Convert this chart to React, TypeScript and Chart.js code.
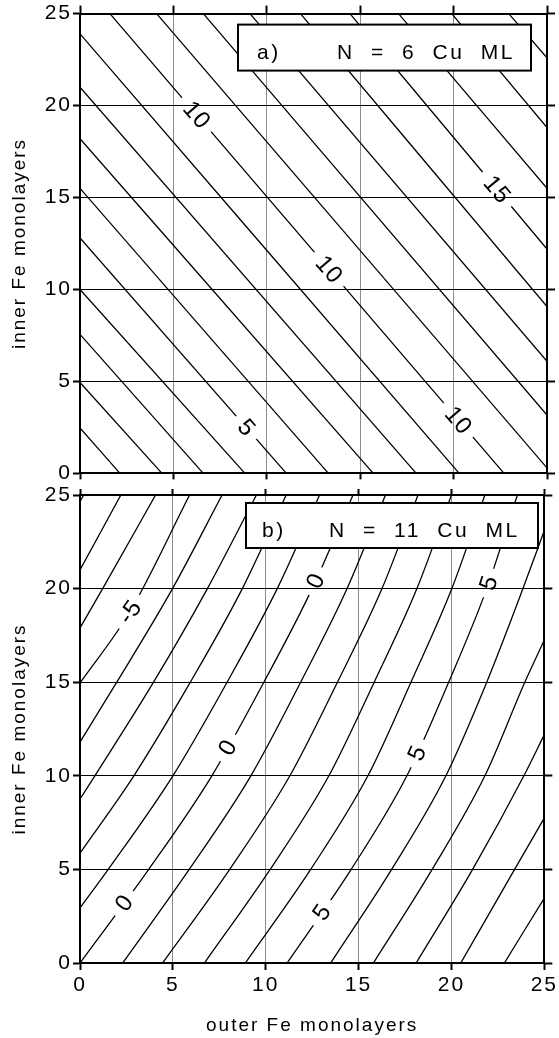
import React, { useEffect, useRef } from 'react';
import { Chart, registerables } from 'chart.js';

Chart.register(...registerables);

const FONT_FAMILY = "'Liberation Sans', Arial, Helvetica, sans-serif";

const AXIS_MIN = 0;
const AXIS_MAX = 25;
const TICK_STEP = 5;

const X_TITLE = 'outer Fe monolayers';
const Y_TITLE = 'inner Fe monolayers';

const PANEL_A_TAG = 'a)';
const PANEL_A_TEXT = 'N = 6 Cu ML';
const PANEL_B_TAG = 'b)';
const PANEL_B_TEXT = 'N = 11 Cu ML';

type Pt = [number, number];

// Panel a) contour lines (x = outer Fe ML, y = inner Fe ML)
const panelALines: Pt[][] = [
  [[0, 2.47], [2.14, 0]],
  [[0, 4.94], [4.39, 0]],
  [[0, 7.56], [6.6, 0]],
  [[0, 10.0], [8.83, 0]],
  [[0, 12.8], [11.05, 0]],
  [[0, 15.5], [13.3, 0]],
  [[0, 18.2], [15.7, 0]],
  [[0, 21.0], [18.0, 0]],
  [[0, 23.9], [20.3, 0]],
  [[1.6, 25], [22.7, 0]],
  [[4.1, 25], [25, 0.3]],
  [[6.6, 25], [25, 3.17]],
  [[9.1, 25], [25, 6.1]],
  [[11.8, 25], [25, 9.07]],
  [[14.45, 25], [25, 12.2]],
  [[17.05, 25], [25, 15.5]],
  [[19.9, 25], [25, 18.8]],
  [[22.95, 25], [25, 22.6]],
];

const panelALabels = [
  { text: '10', line: 9, y: 19.5 },
  { text: '10', line: 9, y: 11.1 },
  { text: '10', line: 9, y: 2.9 },
  { text: '5', line: 4, y: 2.49 },
  { text: '15', line: 14, y: 15.45 },
];

// Panel b) contour lines
const panelBLines: Pt[][] = [
  [[0, 24.65], [0.2, 25]],
  [[0, 21.0], [2.2, 25]],
  [[0, 17.9], [1.22, 20], [4.07, 25]],
  [[0, 14.96], [2.68, 18.75], [5.9, 25]],
  [[0, 11.8], [1.98, 15], [4.98, 20], [7.65, 25]],
  [[0, 8.76], [0.8, 10], [3.96, 15], [6.86, 20], [9.5, 25]],
  [[0, 5.87], [2.9, 10], [5.94, 15], [8.74, 20], [11.1, 25]],
  [[0, 2.94], [1.52, 5], [5.0, 10], [7.92, 15], [10.62, 20], [12.9, 25]],
  [[0, 0], [3.7, 5], [7.1, 10], [9.9, 15], [12.5, 20], [14.7, 25]],
  [[2.3, 0], [5.88, 5], [9.2, 10], [11.88, 15], [14.38, 20], [16.45, 25]],
  [[4.45, 0], [8.06, 5], [11.3, 10], [13.86, 15], [16.26, 20], [18.2, 25]],
  [[6.7, 0], [10.24, 5], [13.4, 10], [15.84, 15], [18.14, 20], [20.0, 25]],
  [[8.9, 0], [12.42, 5], [15.5, 10], [17.82, 15], [20.02, 20], [21.8, 25]],
  [[11.15, 0], [14.6, 5], [17.6, 10], [19.85, 15], [21.9, 20], [23.55, 25]],
  [[13.5, 0], [16.78, 5], [19.7, 10], [21.9, 15], [23.85, 20], [25, 23.1]],
  [[15.8, 0], [18.96, 5], [21.8, 10], [23.95, 15], [25, 17.25]],
  [[18.1, 0], [21.14, 5], [23.9, 10], [25, 12.2]],
  [[20.5, 0], [23.4, 5], [25, 7.75]],
  [[22.85, 0], [25, 3.47]],
];

const panelBLabels = [
  { text: '-5', line: 3, y: 18.75 },
  { text: '0', line: 8, y: 3.2 },
  { text: '0', line: 8, y: 11.5 },
  { text: '0', line: 8, y: 20.4 },
  { text: '5', line: 13, y: 2.7 },
  { text: '5', line: 13, y: 11.2 },
  { text: '5', line: 13, y: 20.3 },
];

const TICK_FONT_SIZE = 21;
const TITLE_FONT_SIZE = 19;
const CONTOUR_FONT_SIZE = 24;
const LABEL_FONT = `${CONTOUR_FONT_SIZE}px ${FONT_FAMILY}`;
const BOX_FONT = `${TICK_FONT_SIZE}px ${FONT_FAMILY}`;
const LETTER_SPACING = 2;

function labelGeom(chart: any, pts: Pt[], y: number) {
  const xs = chart.scales.x;
  const ys = chart.scales.y;
  for (let i = 0; i < pts.length - 1; i++) {
    const [x1, y1] = pts[i];
    const [x2, y2] = pts[i + 1];
    const lo = Math.min(y1, y2);
    const hi = Math.max(y1, y2);
    if (y >= lo && y <= hi && y1 !== y2) {
      const t = (y - y1) / (y2 - y1);
      const x = x1 + t * (x2 - x1);
      const px = xs.getPixelForValue(x);
      const py = ys.getPixelForValue(y);
      let ang = Math.atan2(
        ys.getPixelForValue(y2) - ys.getPixelForValue(y1),
        xs.getPixelForValue(x2) - xs.getPixelForValue(x1)
      );
      if (ang > Math.PI / 2) ang -= Math.PI;
      if (ang < -Math.PI / 2) ang += Math.PI;
      return { px, py, ang };
    }
  }
  return null;
}

type BoxGeom = { dx: number; dy: number; w: number; h: number; tagX: number; textX: number; baseY: number };

function makePlugin(lines: Pt[][], labels: { text: string; line: number; y: number }[], tag: string, text: string, box: BoxGeom) {
  return {
    id: 'contourDecor',
    beforeDraw(chart: any) {
      chart.ctx.letterSpacing = `${LETTER_SPACING}px`;
    },
    beforeDatasetsDraw(chart: any) {
      const ctx = chart.ctx;
      ctx.save();
      ctx.font = LABEL_FONT;
      ctx.letterSpacing = '1px';
      ctx.beginPath();
      ctx.rect(0, 0, chart.width, chart.height);
      for (const lb of labels) {
        const g = labelGeom(chart, lines[lb.line], lb.y);
        if (!g) continue;
        const hw = ctx.measureText(lb.text).width / 2 + 8;
        const hh = 10;
        const c = Math.cos(g.ang);
        const s = Math.sin(g.ang);
        const corners = [
          [-hw, -hh],
          [hw, -hh],
          [hw, hh],
          [-hw, hh],
        ].map(([u, v]) => [g.px + u * c - v * s, g.py + u * s + v * c]);
        ctx.moveTo(corners[0][0], corners[0][1]);
        for (let k = 1; k < 4; k++) ctx.lineTo(corners[k][0], corners[k][1]);
        ctx.closePath();
      }
      ctx.clip('evenodd');
    },
    afterDatasetsDraw(chart: any) {
      const ctx = chart.ctx;
      ctx.restore();
      ctx.save();
      ctx.font = LABEL_FONT;
      ctx.letterSpacing = '1px';
      ctx.fillStyle = '#000';
      ctx.textAlign = 'center';
      ctx.textBaseline = 'middle';
      for (const lb of labels) {
        const g = labelGeom(chart, lines[lb.line], lb.y);
        if (!g) continue;
        ctx.save();
        ctx.translate(g.px, g.py);
        ctx.rotate(g.ang);
        ctx.fillText(lb.text, 0.5, 1);
        ctx.restore();
      }
      ctx.restore();
    },
    afterDraw(chart: any) {
      const ctx = chart.ctx;
      const a = chart.chartArea;
      ctx.save();
      const bx = a.left + box.dx;
      const by = a.top + box.dy;
      ctx.fillStyle = '#fff';
      ctx.fillRect(bx, by, box.w, box.h);
      ctx.lineWidth = 2;
      ctx.strokeStyle = '#000';
      ctx.strokeRect(bx, by, box.w, box.h);
      ctx.fillStyle = '#000';
      ctx.font = BOX_FONT;
      ctx.textAlign = 'left';
      ctx.textBaseline = 'alphabetic';
      ctx.letterSpacing = '2.5px';
      ctx.wordSpacing = '8px';
      ctx.fillText(tag, a.left + box.tagX, a.top + box.baseY);
      ctx.fillText(text, a.left + box.textX, a.top + box.baseY);
      ctx.restore();
    },
  };
}

function buildConfig(panel: 'a' | 'b') {
  const lines = panel === 'a' ? panelALines : panelBLines;
  const labels = panel === 'a' ? panelALabels : panelBLabels;
  const tag = panel === 'a' ? PANEL_A_TAG : PANEL_B_TAG;
  const text = panel === 'a' ? PANEL_A_TEXT : PANEL_B_TEXT;
  const box: BoxGeom =
    panel === 'a'
      ? { dx: 158, dy: 11, w: 293, h: 46, tagX: 177, textX: 257, baseY: 45 }
      : { dx: 166, dy: 8, w: 292, h: 45, tagX: 182, textX: 249, baseY: 42 };
  const isB = panel === 'b';

  const datasets = lines.map((pts) => ({
    data: pts.map(([x, y]) => ({ x, y })),
    borderColor: '#000',
    borderWidth: 1.3,
    pointRadius: 0,
    fill: false,
    cubicInterpolationMode: 'monotone' as const,
    xAxisID: 'x',
    yAxisID: 'y',
  }));

  const tickFont = { family: FONT_FAMILY, size: TICK_FONT_SIZE };
  const titleFont = { family: FONT_FAMILY, size: TITLE_FONT_SIZE, lineHeight: 1.2 };

  return {
    type: 'line' as const,
    data: { datasets },
    options: {
      animation: false,
      responsive: false,
      devicePixelRatio: 1,
      events: [],
      layout: { padding: { top: isB ? 15 : 13, right: 12, bottom: 0, left: 0 } },
      plugins: { legend: { display: false }, tooltip: { enabled: false }, title: { display: false } },
      scales: {
        x: {
          type: 'linear',
          position: 'bottom',
          min: AXIS_MIN,
          max: AXIS_MAX,
          ticks: { stepSize: TICK_STEP, display: isB, font: tickFont, color: '#000', padding: 3, maxRotation: 0 },
          grid: { color: '#8c8c8c', lineWidth: 1, tickLength: isB ? 7 : 6, tickColor: '#000', tickWidth: 2 },
          border: { display: true, color: '#000', width: 2 },
          title: isB
            ? { display: true, text: X_TITLE, font: titleFont, color: '#000', padding: { top: 0, bottom: 1.2 } }
            : { display: false },
          afterFit: (s: any) => {
            s.height = isB ? 75 : 8;
          },
        },
        x2: {
          type: 'linear',
          axis: 'x',
          position: 'top',
          min: AXIS_MIN,
          max: AXIS_MAX,
          ticks: { stepSize: TICK_STEP, display: false },
          grid: { drawOnChartArea: false, tickLength: isB ? 6 : 8, tickColor: '#000', tickWidth: 2 },
          border: { display: true, color: '#000', width: 2 },
          afterFit: (s: any) => {
            s.height = 0;
          },
        },
        y: {
          type: 'linear',
          position: 'left',
          min: AXIS_MIN,
          max: AXIS_MAX,
          ticks: { stepSize: TICK_STEP, font: tickFont, color: '#000', padding: 1 },
          grid: { color: '#000', lineWidth: 1, tickLength: 7, tickColor: '#000', tickWidth: 2 },
          border: { display: true, color: '#000', width: 2 },
          title: { display: true, text: Y_TITLE, font: titleFont, color: '#000', padding: { top: 8, bottom: 0 } },
          afterFit: (s: any) => {
            s.width = 80;
          },
        },
        y2: {
          type: 'linear',
          axis: 'y',
          position: 'right',
          min: AXIS_MIN,
          max: AXIS_MAX,
          ticks: { stepSize: TICK_STEP, display: false },
          grid: { drawOnChartArea: false, tickLength: 8, tickColor: '#000', tickWidth: 2 },
          border: { display: true, color: '#000', width: 2 },
          afterFit: (s: any) => {
            s.width = 0;
          },
        },
      },
    },
    plugins: [makePlugin(lines, labels, tag, text, box)],
  };
}

export default function App() {
  const topRef = useRef<HTMLCanvasElement | null>(null);
  const botRef = useRef<HTMLCanvasElement | null>(null);

  useEffect(() => {
    const charts: Chart[] = [];
    if (topRef.current) charts.push(new Chart(topRef.current, buildConfig('a') as any));
    if (botRef.current) charts.push(new Chart(botRef.current, buildConfig('b') as any));
    return () => charts.forEach((c) => c.destroy());
  }, []);

  return (
    <div style={{ position: 'absolute', left: 0, top: 0, width: 559, height: 1038, background: '#fff', overflow: 'hidden' }}>
      <canvas ref={topRef} width={559} height={487} style={{ position: 'absolute', left: 0, top: 0 }} />
      <canvas ref={botRef} width={559} height={558} style={{ position: 'absolute', left: 0, top: 480 }} />
    </div>
  );
}
